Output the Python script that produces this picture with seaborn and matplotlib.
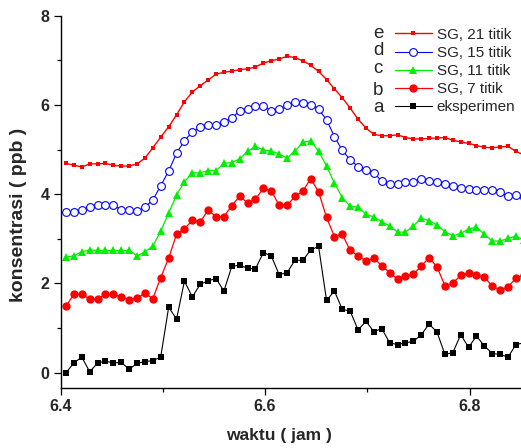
import matplotlib
matplotlib.use("Agg")
import matplotlib.pyplot as plt
from matplotlib.ticker import MultipleLocator
import seaborn as sns
import pandas as pd

time_jam = [6.4054, 6.4131, 6.4208, 6.4286, 6.4363, 6.4440, 6.4517, 6.4594, 6.4672, 6.4749,
            6.4826, 6.4903, 6.4980, 6.5058, 6.5135, 6.5212, 6.5289, 6.5366, 6.5444, 6.5521,
            6.5598, 6.5675, 6.5752, 6.5830, 6.5907, 6.5984, 6.6061, 6.6138, 6.6216, 6.6293,
            6.6370, 6.6447, 6.6524, 6.6602, 6.6679, 6.6756, 6.6833, 6.6910, 6.6988, 6.7065,
            6.7142, 6.7219, 6.7296, 6.7374, 6.7451, 6.7528, 6.7605, 6.7682, 6.7760, 6.7837,
            6.7914, 6.7991, 6.8068, 6.8146, 6.8223, 6.8300, 6.8377, 6.8454, 6.8532]

eksperimen = [0.00, 0.22, 0.35, 0.02, 0.22, 0.26, 0.22, 0.23, 0.08, 0.21,
              0.25, 0.27, 0.35, 1.47, 1.20, 2.05, 1.70, 1.98, 2.06, 2.11,
              1.83, 2.38, 2.41, 2.34, 2.33, 2.69, 2.62, 2.20, 2.24, 2.52,
              2.52, 2.75, 2.83, 1.62, 1.83, 1.42, 1.38, 0.96, 1.15, 0.92,
              0.99, 0.67, 0.63, 0.67, 0.70, 0.85, 1.09, 0.91, 0.41, 0.45,
              0.85, 0.57, 0.82, 0.60, 0.43, 0.41, 0.35, 0.63, 0.67]

sg7 = [1.49, 1.76, 1.76, 1.65, 1.65, 1.76, 1.76, 1.70, 1.64, 1.67,
       1.78, 1.66, 2.13, 2.57, 3.10, 3.22, 3.42, 3.37, 3.65, 3.49,
       3.50, 3.74, 3.96, 3.80, 3.89, 4.13, 4.08, 3.75, 3.75, 3.95,
       4.07, 4.35, 4.05, 3.48, 3.05, 3.10, 2.74, 2.62, 2.50, 2.56,
       2.40, 2.24, 2.10, 2.17, 2.21, 2.39, 2.58, 2.37, 1.95, 2.01,
       2.18, 2.23, 2.19, 2.14, 1.94, 1.85, 1.92, 2.12, 2.19]

sg11 = [2.59, 2.62, 2.71, 2.75, 2.74, 2.74, 2.74, 2.74, 2.74, 2.62,
        2.71, 2.84, 3.17, 3.58, 3.98, 4.28, 4.48, 4.48, 4.53, 4.53,
        4.69, 4.71, 4.79, 4.96, 5.07, 4.99, 4.97, 4.90, 4.81, 4.97,
        5.16, 5.20, 4.96, 4.63, 4.25, 3.92, 3.73, 3.71, 3.55, 3.49,
        3.38, 3.29, 3.15, 3.15, 3.29, 3.46, 3.41, 3.31, 3.16, 3.07,
        3.12, 3.22, 3.26, 3.10, 2.95, 2.95, 3.01, 3.06, 2.97]

sg15 = [3.59, 3.59, 3.65, 3.71, 3.75, 3.75, 3.75, 3.65, 3.65, 3.62,
        3.71, 3.87, 4.19, 4.52, 4.92, 5.20, 5.39, 5.50, 5.55, 5.55,
        5.62, 5.70, 5.87, 5.91, 5.97, 5.97, 5.87, 5.91, 5.99, 6.06,
        6.05, 6.01, 5.90, 5.67, 5.29, 4.98, 4.77, 4.62, 4.55, 4.48,
        4.29, 4.22, 4.22, 4.28, 4.28, 4.33, 4.30, 4.28, 4.23, 4.19,
        4.15, 4.11, 4.09, 4.09, 4.10, 4.05, 3.95, 3.98, 3.94]

sg21 = [4.69, 4.65, 4.61, 4.68, 4.68, 4.69, 4.65, 4.63, 4.63, 4.68,
        4.81, 5.04, 5.28, 5.51, 5.78, 6.07, 6.29, 6.43, 6.56, 6.69,
        6.73, 6.76, 6.79, 6.81, 6.85, 6.94, 6.99, 7.03, 7.09, 7.06,
        6.99, 6.89, 6.75, 6.57, 6.36, 6.16, 5.93, 5.68, 5.48, 5.34,
        5.31, 5.31, 5.33, 5.27, 5.24, 5.24, 5.25, 5.26, 5.27, 5.21,
        5.17, 5.14, 5.09, 5.05, 5.04, 5.06, 5.07, 4.96, 4.88]

legend_labels = ["SG, 21 titik", "SG, 15 titik", "SG, 11 titik", "SG, 7 titik", "eksperimen"]
curve_letters = ["e", "d", "c", "b", "a"]
x_ticks = [6.4, 6.6, 6.8]
y_ticks = [0, 2, 4, 6, 8]

sns.set_style("ticks")
plt.rcParams['font.family'] = ['Liberation Sans', 'DejaVu Sans']

W, H = 521, 448
fig = plt.figure(figsize=(W / 100, H / 100), dpi=100)
ax = fig.add_axes([60.5 / W, 1 - 387.7 / H, (W - 60.5) / W, (387.7 - 15.7) / H])

df = pd.DataFrame({"t": time_jam, "eks": eksperimen, "sg7": sg7, "sg11": sg11,
                   "sg15": sg15, "sg21": sg21})

common = dict(ax=ax, sort=False, estimator=None, legend=False)
sns.lineplot(data=df, x="t", y="eks", color="black", linewidth=0.8, marker="s",
             markersize=5.0, markeredgewidth=0, markerfacecolor="black", **common)
sns.lineplot(data=df, x="t", y="sg7", color="#ff0000", linewidth=0.9, marker="o",
             markersize=6.0, markeredgewidth=0, markerfacecolor="#ff0000", **common)
sns.lineplot(data=df, x="t", y="sg11", color="#00ee00", linewidth=0.9, marker="^",
             markersize=6.0, markeredgewidth=0, markerfacecolor="#00ee00", **common)
sns.lineplot(data=df, x="t", y="sg15", color="#0000ff", linewidth=0.8, marker="o",
             markersize=5.6, markeredgewidth=0.8, markerfacecolor="white",
             markeredgecolor="#0000ff", **common)
sns.lineplot(data=df, x="t", y="sg21", color="#ff0000", linewidth=1.0, marker="s",
             markersize=2.2, markeredgewidth=0, markerfacecolor="#ff0000", **common)

lines = ax.get_lines()
handles = [lines[4], lines[3], lines[2], lines[1], lines[0]]
ax.legend(handles, legend_labels, loc="upper left", bbox_to_anchor=(0.7264, 0.9674),
          frameon=False, fontsize=11, handlelength=2.4, handletextpad=0.33,
          labelspacing=0.27, borderpad=0, borderaxespad=0, numpoints=1)

letter_pos = [(378, 38.3), (378, 55.0), (378, 73.3), (378, 95.0), (378, 111.7)]
for letter, (px, py) in zip(curve_letters, letter_pos):
    fig.text(px / W, 1 - py / H, letter, ha="center", va="baseline", fontsize=13.5)

ax.set_xlim(6.4, 6.4 + (W - 60.5) / 1022.5)
ax.set_ylim(-0.336, 8.0)
ax.set_xticks(x_ticks)
ax.set_yticks(y_ticks)
ax.xaxis.set_minor_locator(MultipleLocator(0.1))
ax.yaxis.set_minor_locator(MultipleLocator(1))
ax.set_xticklabels([f"{v:.1f}" for v in x_ticks], fontweight="bold")
ax.set_yticklabels([str(v) for v in y_ticks], fontweight="bold")
ax.tick_params(axis="both", which="major", direction="out", length=5, width=0.9,
               labelsize=11.5, pad=3, color="black")
ax.tick_params(axis="both", which="minor", direction="out", length=3, width=0.9, color="black")

ax.set_xlabel("waktu ( jam )", fontsize=12.5, fontweight="bold")
ax.set_ylabel("konsentrasi ( ppb )", fontsize=14, fontweight="bold")
ax.xaxis.set_label_coords(0.4745, -0.108)
ax.xaxis.label.set_va("top")
ax.yaxis.set_label_coords(-0.072, 0.465)

for side in ["top", "right"]:
    ax.spines[side].set_visible(False)
for side in ["left", "bottom"]:
    ax.spines[side].set_linewidth(1.0)
    ax.spines[side].set_color("black")
ax.set_facecolor("white")
fig.patch.set_facecolor("white")

fig.savefig("out.png", dpi=100)
